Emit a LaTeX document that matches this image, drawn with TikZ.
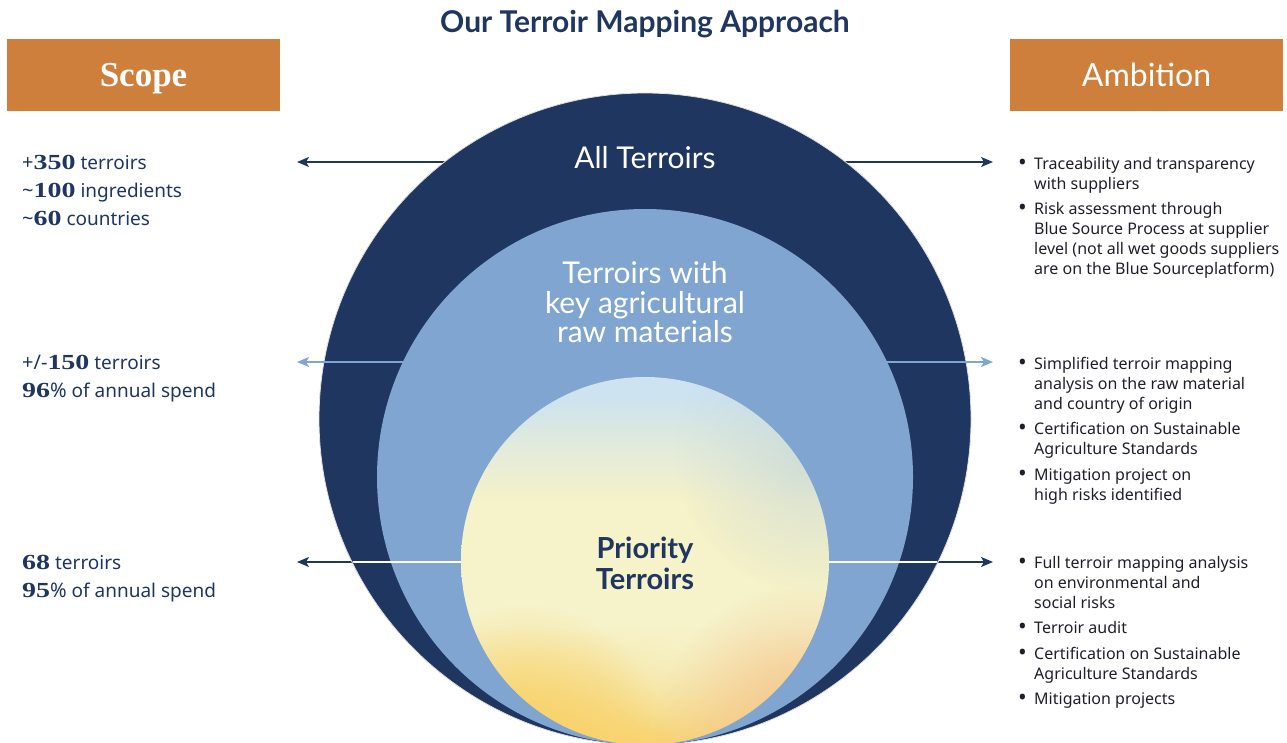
\documentclass[tikz,border=0pt]{standalone}
\usepackage{fontspec}
\setmainfont{Noto Sans}
\newfontfamily\headfont{Lato}
\newfontfamily\numfont{Liberation Serif}
\usetikzlibrary{arrows.meta,fadings}

\definecolor{navy}{HTML}{1E3660}
\definecolor{skyring}{HTML}{7FA5D0}
\definecolor{ochre}{HTML}{CD7F3B}
\definecolor{ink}{HTML}{1F1F2A}
\definecolor{paletop}{HTML}{CDE3EF}
\definecolor{cream}{HTML}{F6F2C9}
\definecolor{gold}{HTML}{F9CF62}
\definecolor{peach}{HTML}{F4C493}
\definecolor{haze}{HTML}{C4D6D9}

\tikzfading[name=softspot, inner color=transparent!0, outer color=transparent!100]
% the path box is mapped onto 25bp..75bp of the shading
\pgfdeclareverticalshading{prioshade}{100bp}{color(0bp)=(gold!85!cream); color(25bp)=(gold!85!cream); color(31bp)=(gold!55!cream); color(41bp)=(cream); color(58bp)=(cream); color(65bp)=(paletop!45!cream); color(72bp)=(paletop); color(100bp)=(paletop)}

% wide bold serif figures and plain signs for the scope lines
\newcommand\scopenum[1]{\scalebox{1.3}[1]{\numfont\bfseries\fontsize{21.5}{28}\selectfont #1}}
\newcommand\scopesym[1]{{\fontsize{20}{28}\selectfont #1}}
% bullet and hanging indent for the ambition lists
\newcommand\itemdot{\makebox[16pt][l]{\raisebox{-1.2pt}{\scalebox{1.45}{\textbullet}}}}
\newcommand\itemgap{\hspace*{16pt}}

\begin{document}
\begin{tikzpicture}[x=1pt,y=-1pt,
  arrowtip/.style={-{Stealth[length=12pt,width=10pt,inset=3pt]}, line width=1.5pt},
  headbox/.style={fill=ochre, minimum width=273pt, minimum height=72pt, inner sep=0pt,
                  text height=23pt, text depth=0pt, text=white},
  scopetext/.style={anchor=north west, inner sep=0pt, align=left, text=navy,
                    font=\fontsize{19}{28}\selectfont},
  goaltext/.style={anchor=north west, inner sep=0pt, align=left, text=ink,
                   font=\fontsize{16}{20}\selectfont},
  ringlabel/.style={anchor=base, inner sep=0pt, text=white,
                    font=\headfont\fontsize{30}{30}\selectfont},
  prilabel/.style={anchor=base, inner sep=0pt, text=navy,
                   font=\headfont\bfseries\fontsize{29}{31}\selectfont},
]
\useasboundingbox (0,0) rectangle (1287,742);
\clip (0,0) rectangle (1287,742);

% title and column headers
\node[anchor=base, inner sep=0pt, text=navy,
      font=\headfont\bfseries\fontsize{30}{30}\selectfont] (title) at (645,32.5)
      {Our Terroir Mapping Approach};
\node[headbox, font=\numfont\bfseries\fontsize{35}{35}\selectfont] (scope) at (143.5,75) {Scope};
\node[headbox, font=\headfont\fontsize{32}{32}\selectfont] (ambition) at (1146.5,75) {Ambition};

% circle centres and arrow anchors
\coordinate (outerC) at (645,419);
\coordinate (keyCirc) at (645,477);
\coordinate (priCirc) at (645,561);
\coordinate (allC) at (645,162);
\coordinate (allL) at (297,162);
\coordinate (allR) at (993,162);
\coordinate (keyC) at (645,362);
\coordinate (keyL) at (297,362);
\coordinate (keyR) at (993,362);
\coordinate (priC) at (645,562);
\coordinate (priL) at (297,562);
\coordinate (priR) at (993,562);

% arrows running behind the outer disc
\draw[arrowtip, navy] (allC) -- (allL);
\draw[arrowtip, navy] (allC) -- (allR);
\draw[arrowtip, navy] (priC) -- (priL);
\draw[arrowtip, navy] (priC) -- (priR);

% outer disc: all terroirs
\fill[navy] (outerC) circle (326);
\draw[gray!25, line width=0.8pt] (outerC) circle (326);

% light arrows running behind the middle disc
\draw[arrowtip, skyring, line width=2pt] (keyC) -- (keyL);
\draw[arrowtip, skyring, line width=2pt] (keyC) -- (keyR);

% middle disc: key agricultural raw materials
\fill[skyring] (keyCirc) circle (268);

% white guide line across the rings
\begin{scope}
  \clip (outerC) circle (325);
  \draw[white, line width=1.3pt] (priL) -- (priR);
\end{scope}

% inner disc: priority terroirs
\begin{scope}
  \clip (priCirc) circle (184);
  \shade[shading=prioshade] (461,377) rectangle (829,745);
  \fill[haze, path fading=softspot, opacity=0.7] (815,455) circle (140);
  \fill[cream, path fading=softspot, opacity=0.85] (690,630) circle (110);
  \fill[peach, path fading=softspot, opacity=1] (805,735) circle (150);
  \fill[gold, path fading=softspot, opacity=0.9] (525,745) circle (140);
\end{scope}

% disc labels
\node[ringlabel] (allLbl) at (645,168) {All Terroirs};
\node[ringlabel] (keyLbl1) at (645,283) {Terroirs with};
\node[ringlabel] (keyLbl2) at (645,313) {key agricultural};
\node[ringlabel] (keyLbl3) at (645,342) {raw materials};
\node[prilabel] (priLbl1) at (645,558) {Priority};
\node[prilabel] (priLbl2) at (645,589) {Terroirs};

% scope figures
\node[scopetext] (scopeAll) at (22,149.4)
  {\strut\scopesym{+}\scopenum{350} terroirs\\
   \strut\scopesym{\textasciitilde}\scopenum{100} ingredients\\
   \strut\scopesym{\textasciitilde}\scopenum{60} countries};
\node[scopetext] (scopeKey) at (22,349.4)
  {\strut\scopesym{+/-}\scopenum{150} terroirs\\
   \strut\scopenum{96}\scopesym{\%} of annual spend};
\node[scopetext] (scopePri) at (22,549.4)
  {\strut\scopenum{68} terroirs\\
   \strut\scopenum{95}\scopesym{\%} of annual spend};

% ambition lists
\node[goaltext] (goalAll) at (1018,155)
  {\strut\itemdot Traceability and transparency\\
   \strut\itemgap with suppliers\\[5.5pt]
   \strut\itemdot Risk assessment through\\
   \strut\itemgap Blue Source Process at supplier\\
   \strut\itemgap level (not all wet goods suppliers\\
   \strut\itemgap are on the Blue Sourceplatform)};
\node[goaltext] (goalKey) at (1018,355)
  {\strut\itemdot Simplified terroir mapping\\
   \strut\itemgap analysis on the raw material\\
   \strut\itemgap and country of origin\\[5.5pt]
   \strut\itemdot Certification on Sustainable\\
   \strut\itemgap Agriculture Standards\\[5.5pt]
   \strut\itemdot Mitigation project on\\
   \strut\itemgap high risks identified};
\node[goaltext] (goalPri) at (1018,554)
  {\strut\itemdot Full terroir mapping analysis\\
   \strut\itemgap on environmental and\\
   \strut\itemgap social risks\\[5.5pt]
   \strut\itemdot Terroir audit\\[5.5pt]
   \strut\itemdot Certification on Sustainable\\
   \strut\itemgap Agriculture Standards\\[5.5pt]
   \strut\itemdot Mitigation projects};
\end{tikzpicture}
\end{document}
